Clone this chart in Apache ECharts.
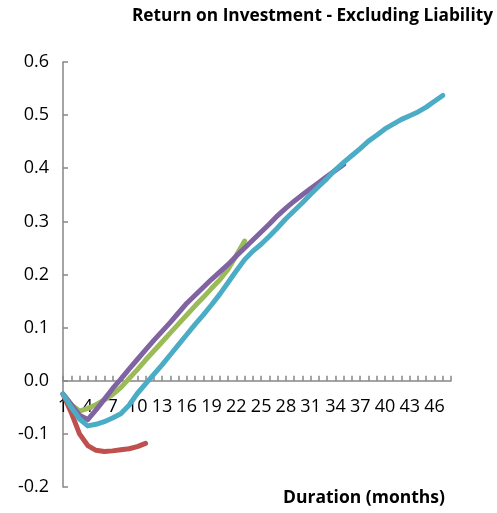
<!DOCTYPE html>
<html>
<head>
<meta charset="utf-8">
<title>Return on Investment - Excluding Liability</title>
<script src="https://cdn.jsdelivr.net/npm/echarts@6/dist/echarts.min.js"></script>
<style>
  html, body { margin: 0; padding: 0; background: #ffffff; }
  #chart { width: 497px; height: 513px; }
</style>
</head>
<body>
<div id="chart"></div>
<script>
// Months since start of the investment
const months = [
  '1','2','3','4','5','6','7','8','9','10','11','12','13','14','15','16',
  '17','18','19','20','21','22','23','24','25','26','27','28','29','30','31','32',
  '33','34','35','36','37','38','39','40','41','42','43','44','45','46','47','48'
];

// Cumulative return (excluding liability) for each cohort
const cohortRed = [
  -0.025, -0.060, -0.100, -0.122, -0.131, -0.133, -0.132, -0.130, -0.128, -0.124, -0.118
];
const cohortGreen = [
  -0.025, -0.045, -0.057, -0.052, -0.045, -0.036, -0.026, -0.013, 0.004, 0.021,
  0.039, 0.056, 0.073, 0.090, 0.107, 0.124, 0.141, 0.157, 0.174, 0.190,
  0.210, 0.236, 0.263
];
const cohortPurple = [
  -0.025, -0.045, -0.065, -0.073, -0.055, -0.035, -0.015, 0.003, 0.022, 0.040,
  0.058, 0.076, 0.093, 0.110, 0.128, 0.146, 0.161, 0.176, 0.191, 0.205,
  0.219, 0.235, 0.250, 0.265, 0.280, 0.295, 0.311, 0.325, 0.338, 0.350,
  0.362, 0.373, 0.385, 0.396, 0.407
];
const cohortCyan = [
  -0.025, -0.050, -0.072, -0.085, -0.082, -0.077, -0.070, -0.062, -0.046, -0.024,
  -0.006, 0.012, 0.030, 0.049, 0.068, 0.087, 0.106, 0.124, 0.143, 0.163,
  0.185, 0.207, 0.228, 0.244, 0.257, 0.272, 0.288, 0.305, 0.320, 0.335,
  0.351, 0.366, 0.381, 0.397, 0.411, 0.424, 0.437, 0.451, 0.462, 0.474,
  0.483, 0.492, 0.499, 0.506, 0.515, 0.526, 0.537
];

const FONT = 'Open Sans';
const AXIS_GREY = '#868686';
const GRID = { left: 63, right: 46, top: 62, bottom: 26 };

function lineSeries(name, data, color) {
  return {
    name: name,
    type: 'line',
    data: data,
    showSymbol: false,
    symbol: 'none',
    smooth: false,
    lineStyle: { color: color, width: 5, cap: 'round', join: 'round' },
    itemStyle: { color: color },
    emphasis: { disabled: true }
  };
}

const chart = echarts.init(document.getElementById('chart'), null, { renderer: 'canvas' });

chart.setOption({
  animation: false,
  backgroundColor: '#ffffff',
  title: [
    {
      text: 'Return on Investment - Excluding Liability',
      right: 4,
      top: 8,
      padding: 0,
      textStyle: { fontFamily: FONT, fontSize: 17.3, fontWeight: 'bold', color: '#000000' }
    },
    {
      text: 'Duration (months)',
      left: 283,
      top: 489,
      padding: 0,
      textStyle: { fontFamily: FONT, fontSize: 17.5, fontWeight: 'bold', color: '#000000' }
    }
  ],
  grid: {
    left: GRID.left, right: GRID.right, top: GRID.top, bottom: GRID.bottom,
    containLabel: false,
    outerBoundsMode: 'none'
  },
  xAxis: {
    type: 'category',
    data: months,
    boundaryGap: false,
    axisLine: { onZero: false, lineStyle: { color: AXIS_GREY, width: 1.5 } },
    axisTick: { show: true, inside: true, interval: 0, length: 5, lineStyle: { color: AXIS_GREY, width: 1.5 } },
    axisLabel: {
      interval: 2,
      margin: 17,
      showMinLabel: true,
      hideOverlap: false,
      fontFamily: FONT,
      fontSize: 18,
      color: '#000000'
    },
    splitLine: { show: false }
  },
  yAxis: {
    type: 'value',
    min: -0.2,
    max: 0.6,
    interval: 0.1,
    axisLine: { show: true, lineStyle: { color: AXIS_GREY, width: 1.5 } },
    axisTick: { show: true, inside: true, length: 5, lineStyle: { color: AXIS_GREY, width: 1.5 } },
    axisLabel: {
      margin: 14,
      fontFamily: FONT,
      fontSize: 18,
      color: '#000000',
      formatter: function (v) { return v.toFixed(1); }
    },
    splitLine: { show: false }
  },
  series: [
    lineSeries('Cohort A', cohortRed, '#C0504D'),
    lineSeries('Cohort B', cohortGreen, '#9BBB59'),
    lineSeries('Cohort C', cohortPurple, '#8064A2'),
    lineSeries('Cohort D', cohortCyan, '#4BACC6')
  ]
});

// The category axis crosses the value axis at zero, labels included:
// shift it up from the grid bottom to where the value scale puts 0.
// Repeat until the layout settles, since moving the labels can change it.
for (let pass = 0; pass < 3; pass++) {
  const zeroY = chart.convertToPixel({ yAxisIndex: 0 }, 0);
  const bottomY = chart.convertToPixel({ yAxisIndex: 0 }, -0.2);
  chart.setOption({ xAxis: { offset: zeroY - bottomY } });
}
</script>
</body>
</html>
